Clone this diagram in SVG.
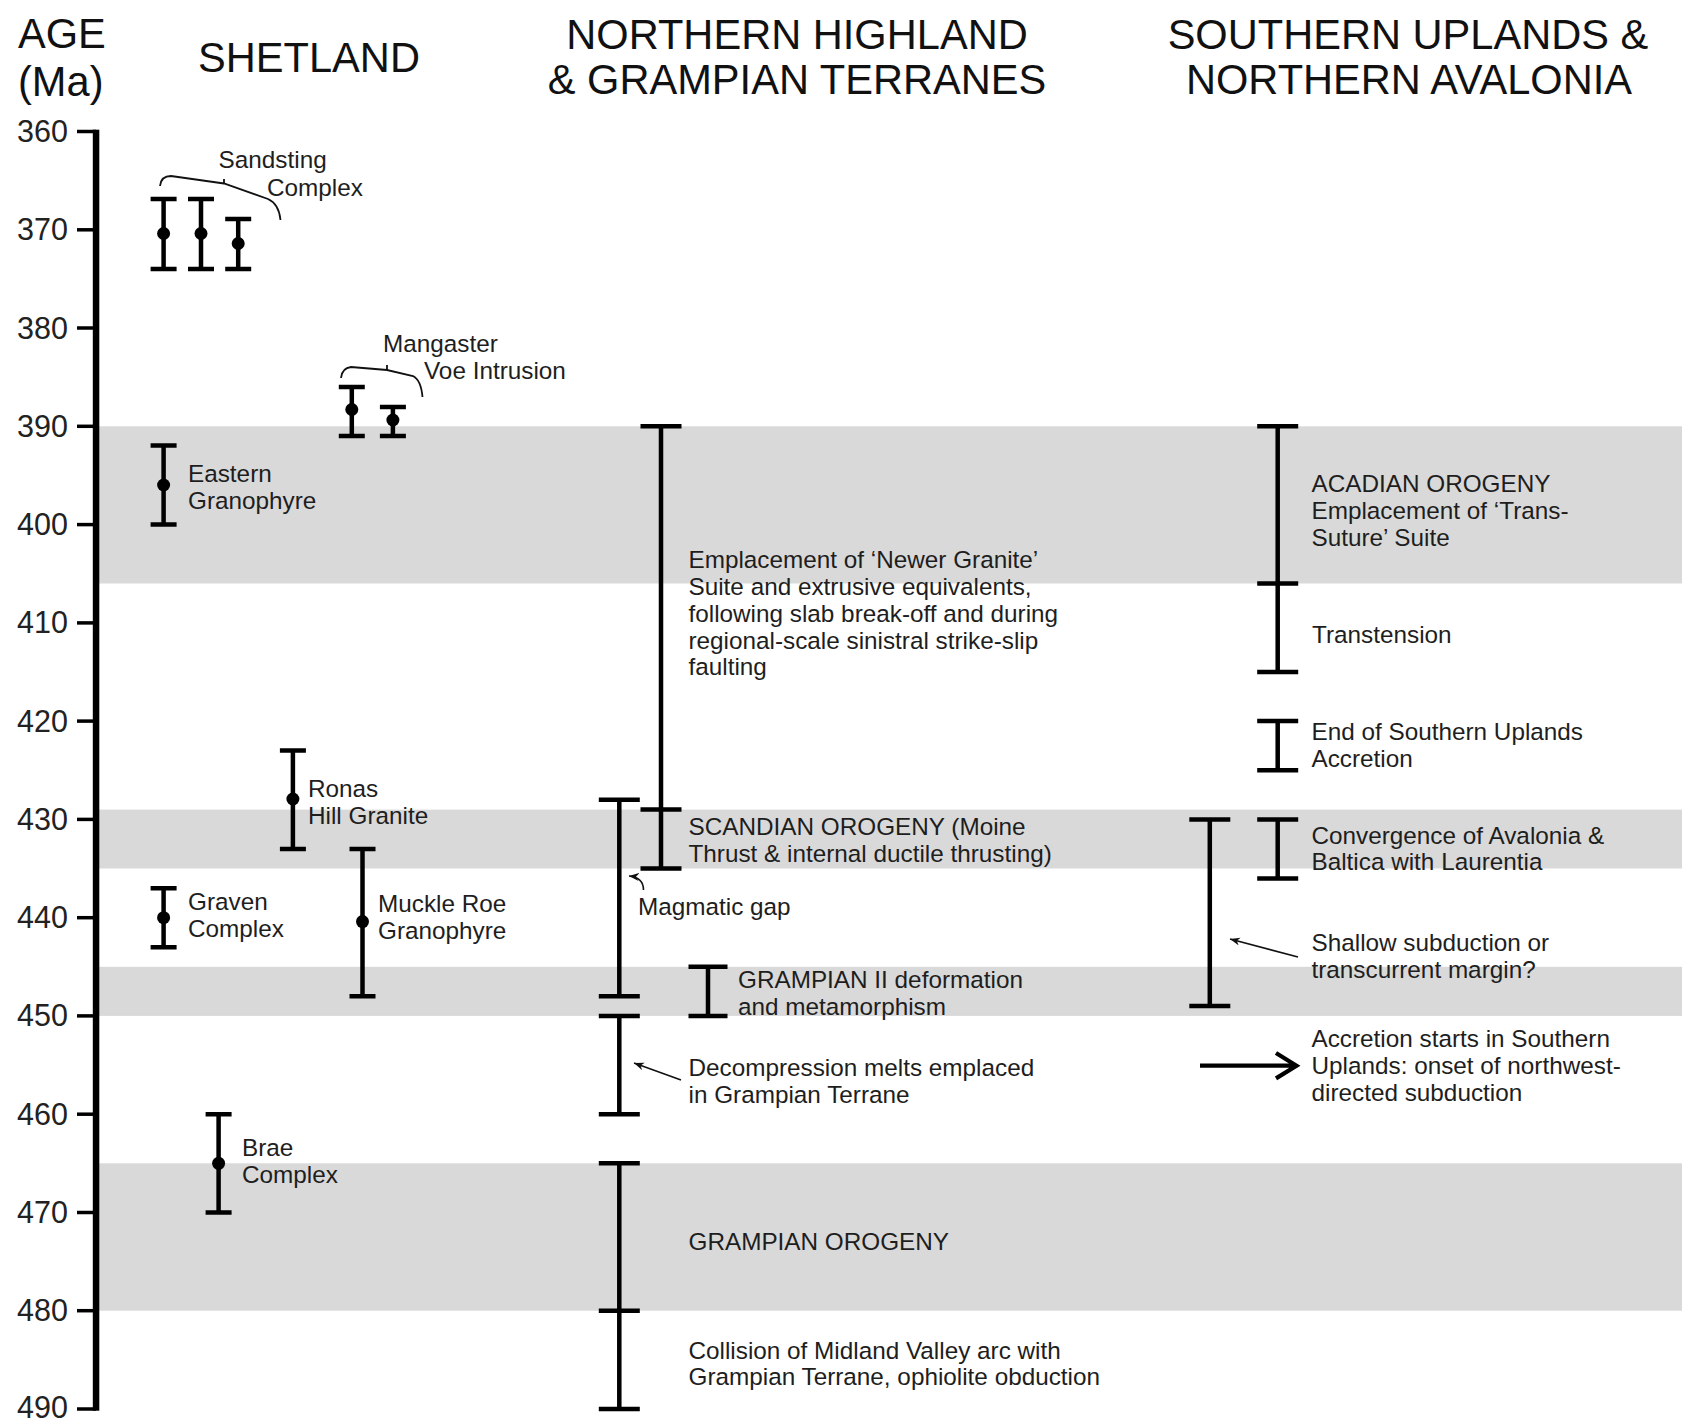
<svg xmlns="http://www.w3.org/2000/svg" width="1682" height="1422" viewBox="0 0 1682 1422">
<defs>
<style>
text{font-family:"Liberation Sans",Arial,Helvetica,sans-serif;fill:#1e1e1e}
.hd{font-size:41.6px;fill:#111}
.tk{font-size:30.5px;text-anchor:end;fill:#222}
.lb{font-size:24.3px}
.bar{stroke:#000;stroke-width:4.5;fill:none}
.tick{stroke:#000;stroke-width:3.5}
.band{fill:#d9d9d9}
.dot{fill:#000}
.brace{stroke:#111;stroke-width:1.8;fill:none}
.lead{stroke:#111;stroke-width:1.6;fill:none}
</style>
<marker id="ah" markerUnits="userSpaceOnUse" markerWidth="12" markerHeight="10" refX="10" refY="4" orient="auto">
<path d="M0,0 L10,4 L0,8 L3,4 Z" fill="#111"/>
</marker>
</defs>
<rect width="1682" height="1422" fill="#fff"/>

<g id="bands">
<rect class="band" x="99" y="426.3" width="1583" height="157.2"/>
<rect class="band" x="99" y="809.6" width="1583" height="58.9"/>
<rect class="band" x="99" y="966.8" width="1583" height="49.1"/>
<rect class="band" x="99" y="1163.3" width="1583" height="147.4"/>
</g>

<g id="headers">
<text class="hd" x="18" y="48">AGE</text>
<text class="hd" x="18" y="96">(Ma)</text>
<text class="hd" x="309" y="72" text-anchor="middle">SHETLAND</text>
<text class="hd" x="797" y="48.5" text-anchor="middle">NORTHERN HIGHLAND</text>
<text class="hd" x="797" y="94" text-anchor="middle">&amp; GRAMPIAN TERRANES</text>
<text class="hd" x="1408" y="48.5" text-anchor="middle">SOUTHERN UPLANDS &amp;</text>
<text class="hd" x="1409" y="94" text-anchor="middle">NORTHERN AVALONIA</text>
</g>

<g id="axis">
<rect x="92.8" y="129.7" width="6.5" height="1281" fill="#000"/>
<line class="tick" x1="77" y1="131.5" x2="96" y2="131.5"/>
<line class="tick" x1="77" y1="229.8" x2="96" y2="229.8"/>
<line class="tick" x1="77" y1="328" x2="96" y2="328"/>
<line class="tick" x1="77" y1="426.3" x2="96" y2="426.3"/>
<line class="tick" x1="77" y1="524.6" x2="96" y2="524.6"/>
<line class="tick" x1="77" y1="622.9" x2="96" y2="622.9"/>
<line class="tick" x1="77" y1="721.1" x2="96" y2="721.1"/>
<line class="tick" x1="77" y1="819.4" x2="96" y2="819.4"/>
<line class="tick" x1="77" y1="917.7" x2="96" y2="917.7"/>
<line class="tick" x1="77" y1="1015.9" x2="96" y2="1015.9"/>
<line class="tick" x1="77" y1="1114.2" x2="96" y2="1114.2"/>
<line class="tick" x1="77" y1="1212.5" x2="96" y2="1212.5"/>
<line class="tick" x1="77" y1="1310.7" x2="96" y2="1310.7"/>
<line class="tick" x1="77" y1="1409" x2="96" y2="1409"/>
<text class="tk" x="68" y="142">360</text>
<text class="tk" x="68" y="240.3">370</text>
<text class="tk" x="68" y="338.5">380</text>
<text class="tk" x="68" y="436.8">390</text>
<text class="tk" x="68" y="535.1">400</text>
<text class="tk" x="68" y="633.4">410</text>
<text class="tk" x="68" y="731.6">420</text>
<text class="tk" x="68" y="829.9">430</text>
<text class="tk" x="68" y="928.2">440</text>
<text class="tk" x="68" y="1026.4">450</text>
<text class="tk" x="68" y="1124.7">460</text>
<text class="tk" x="68" y="1223">470</text>
<text class="tk" x="68" y="1321.2">480</text>
<text class="tk" x="68" y="1418">490</text>
</g>

<g id="sandsting">
<path class="bar" d="M163.6,199 V269 M150.6,199 H176.6 M150.6,269 H176.6"/>
<circle class="dot" cx="163.6" cy="233.5" r="6.5"/>
<path class="bar" d="M201,199 V269 M188,199 H214 M188,269 H214"/>
<circle class="dot" cx="201" cy="233.5" r="6.5"/>
<path class="bar" d="M238.2,219 V269 M225.2,219 H251.2 M225.2,269 H251.2"/>
<circle class="dot" cx="238.2" cy="243.5" r="6.5"/>
<text class="lb" x="218.6" y="168">Sandsting</text>
<text class="lb" x="267" y="196">Complex</text>
</g>

<g id="mangaster">
<path class="bar" d="M351.8,387 V436 M338.8,387 H364.8 M338.8,436 H364.8"/>
<circle class="dot" cx="351.8" cy="409.5" r="6.5"/>
<path class="bar" d="M392.9,407 V436 M379.9,407 H405.9 M379.9,436 H405.9"/>
<circle class="dot" cx="392.9" cy="420" r="6.5"/>
<text class="lb" x="383" y="352">Mangaster</text>
<text class="lb" x="424" y="379">Voe Intrusion</text>
</g>

<g id="eastern-granophyre">
<path class="bar" d="M163.6,445.5 V524.6 M150.6,445.5 H176.6 M150.6,524.6 H176.6"/>
<circle class="dot" cx="163.6" cy="485" r="6.5"/>
<text class="lb" x="188" y="482">Eastern</text>
<text class="lb" x="188" y="509">Granophyre</text>
</g>

<g id="ronas-hill">
<path class="bar" d="M292.9,750.5 V848.9 M279.9,750.5 H305.9 M279.9,848.9 H305.9"/>
<circle class="dot" cx="292.9" cy="799" r="6.5"/>
<text class="lb" x="308" y="797">Ronas</text>
<text class="lb" x="308" y="824">Hill Granite</text>
</g>

<g id="muckle-roe">
<path class="bar" d="M362.5,848.9 V996.3 M349.5,848.9 H375.5 M349.5,996.3 H375.5"/>
<circle class="dot" cx="362.5" cy="921.6" r="6.5"/>
<text class="lb" x="378" y="912">Muckle Roe</text>
<text class="lb" x="378" y="939">Granophyre</text>
</g>

<g id="graven">
<path class="bar" d="M163.6,888.2 V947.2 M150.6,888.2 H176.6 M150.6,947.2 H176.6"/>
<circle class="dot" cx="163.6" cy="917.7" r="6.5"/>
<text class="lb" x="188" y="910">Graven</text>
<text class="lb" x="188" y="937">Complex</text>
</g>

<g id="brae">
<path class="bar" d="M218.6,1114.2 V1212.6 M205.6,1114.2 H231.6 M205.6,1212.6 H231.6"/>
<circle class="dot" cx="218.6" cy="1163.3" r="6.5"/>
<text class="lb" x="242" y="1156">Brae</text>
<text class="lb" x="242" y="1183">Complex</text>
</g>

<g id="newer-granite">
<path class="bar" d="M661,426.3 V868.5 M640.5,426.3 H681.5 M640.5,809.6 H681.5 M640.5,868.5 H681.5"/>
<text class="lb" x="688.5" y="568">Emplacement of ‘Newer Granite’</text>
<text class="lb" x="688.5" y="595">Suite and extrusive equivalents,</text>
<text class="lb" x="688.5" y="622">following slab break-off and during</text>
<text class="lb" x="688.5" y="648.5">regional-scale sinistral strike-slip</text>
<text class="lb" x="688.5" y="675">faulting</text>
</g>

<g id="scandian">
<text class="lb" x="688.5" y="835">SCANDIAN OROGENY (Moine</text>
<text class="lb" x="688.5" y="861.5">Thrust &amp; internal ductile thrusting)</text>
</g>

<g id="magmatic-gap">
<path class="bar" d="M619.3,799.7 V996.3 M598.8,799.7 H639.8 M598.8,996.3 H639.8"/>
<text class="lb" x="638" y="915">Magmatic gap</text>
</g>

<g id="grampian-ii">
<path class="bar" d="M708,966.8 V1015.9 M688.5,966.8 H727.5 M688.5,1015.9 H727.5"/>
<text class="lb" x="738" y="988">GRAMPIAN II deformation</text>
<text class="lb" x="738" y="1015">and metamorphism</text>
</g>

<g id="decompression">
<path class="bar" d="M619.3,1015.9 V1114.2 M598.8,1015.9 H639.8 M598.8,1114.2 H639.8"/>
<text class="lb" x="688.5" y="1076">Decompression melts emplaced</text>
<text class="lb" x="688.5" y="1103">in Grampian Terrane</text>
</g>

<g id="grampian-orogeny">
<path class="bar" d="M619.3,1163.3 V1409 M598.8,1163.3 H639.8 M598.8,1310.7 H639.8 M598.8,1409 H639.8"/>
<text class="lb" x="688.5" y="1250">GRAMPIAN OROGENY</text>
<text class="lb" x="688.5" y="1359">Collision of Midland Valley arc with</text>
<text class="lb" x="688.5" y="1385">Grampian Terrane, ophiolite obduction</text>
</g>

<g id="acadian">
<path class="bar" d="M1277.7,426.3 V672 M1257.2,426.3 H1298.2 M1257.2,583.5 H1298.2 M1257.2,672 H1298.2"/>
<text class="lb" x="1311.5" y="492">ACADIAN OROGENY</text>
<text class="lb" x="1311.5" y="519">Emplacement of ‘Trans-</text>
<text class="lb" x="1311.5" y="546">Suture’ Suite</text>
<text class="lb" x="1312" y="643">Transtension</text>
</g>

<g id="end-accretion">
<path class="bar" d="M1277.7,721.1 V770.3 M1257.2,721.1 H1298.2 M1257.2,770.3 H1298.2"/>
<text class="lb" x="1311.5" y="740">End of Southern Uplands</text>
<text class="lb" x="1311.5" y="767">Accretion</text>
</g>

<g id="convergence">
<path class="bar" d="M1277.7,819.4 V878.4 M1257.2,819.4 H1298.2 M1257.2,878.4 H1298.2"/>
<text class="lb" x="1311.5" y="844">Convergence of Avalonia &amp;</text>
<text class="lb" x="1311.5" y="870">Baltica with Laurentia</text>
</g>

<g id="shallow-subduction">
<path class="bar" d="M1209.8,819.4 V1006.1 M1189.3,819.4 H1230.3 M1189.3,1006.1 H1230.3"/>
<text class="lb" x="1311.5" y="951">Shallow subduction or</text>
<text class="lb" x="1311.5" y="977.5">transcurrent margin?</text>
</g>

<g id="accretion-start">
<text class="lb" x="1311.5" y="1047">Accretion starts in Southern</text>
<text class="lb" x="1311.5" y="1074">Uplands: onset of northwest-</text>
<text class="lb" x="1311.5" y="1100.5">directed subduction</text>
</g>

<g id="connectors">
<path class="brace" d="M160,186 Q161,176 171,176 L224,183.5 L268,199 Q279,204 280.5,220 M224,183.5 V179"/>
<path class="brace" d="M341,378 Q342,368 351,367 L387,370 L413,376 Q421,380 422.5,397 M387,370 V365"/>
<path class="lead" d="M643.5,890 C643.5,882 639,877 629,876" marker-end="url(#ah)"/>
<path class="lead" d="M681,1080 L634,1063" marker-end="url(#ah)"/>
<path class="lead" d="M1298,957 L1230,939" marker-end="url(#ah)"/>
<path d="M1200,1065.7 H1294 M1276,1053 L1296.5,1065.7 L1276,1078.4" stroke="#000" stroke-width="4.2" fill="none"/>
</g>
</svg>
